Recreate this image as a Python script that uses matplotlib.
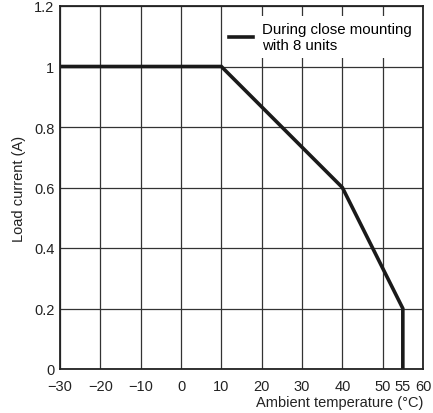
import matplotlib
matplotlib.use("Agg")
import matplotlib.pyplot as plt

plt.rcParams["font.family"] = ["Liberation Sans", "DejaVu Sans"]

temp = [-30, 10, 40, 55, 55]
current = [1.0, 1.0, 0.6, 0.2, 0.0]
x_ticks = [-30, -20, -10, 0, 10, 20, 30, 40, 50, 60]
y_ticks = [0, 0.2, 0.4, 0.6, 0.8, 1.0, 1.2]
y_labels = ["0", "0.2", "0.4", "0.6", "0.8", "1", "1.2"]
series_label = "During close mounting\nwith 8 units"

fig = plt.figure(figsize=(4.33, 4.14), dpi=100)
ax = fig.add_axes([60 / 433, 44 / 414, 363 / 433, 363 / 414])

ax.set_xlim(-30, 60)
ax.set_ylim(0, 1.2)
ax.set_xticks(x_ticks)
ax.set_xticklabels([f"{t}".replace("-", "\u2212") for t in x_ticks])
ax.set_xticks([55], minor=True)
ax.set_xticklabels(["55"], minor=True)
ax.set_yticks(y_ticks)
ax.set_yticklabels(y_labels)
ax.tick_params(which="both", length=0, labelsize=10.5, colors="#222222")
ax.tick_params(axis="y", pad=4)
ax.tick_params(axis="x", which="both", pad=7)
ax.grid(which="major", color="#333333", linewidth=0.9)
ax.set_axisbelow(True)
for sp in ax.spines.values():
    sp.set_linewidth(1.3)
    sp.set_color("#222222")

ax.plot(temp, current, color="#1a1a1a", linewidth=2.6, label=series_label,
        solid_joinstyle="miter")

leg = ax.legend(loc="upper right", bbox_to_anchor=(0.985, 0.973), frameon=True,
                fancybox=False, fontsize=10.8, handlelength=1.6, handletextpad=0.6,
                borderpad=0.4, labelspacing=0.15, borderaxespad=0.0)
leg.get_frame().set_edgecolor("none")
leg.get_frame().set_facecolor("white")
leg.get_frame().set_alpha(1)

ax.set_ylabel("Load current (A)", fontsize=10.5, color="#222222", labelpad=6)
ax.set_xlabel("Ambient temperature (\u00b0C)", fontsize=10.5, color="#222222",
              loc="right", labelpad=2)

fig.savefig("out.png", dpi=100)
